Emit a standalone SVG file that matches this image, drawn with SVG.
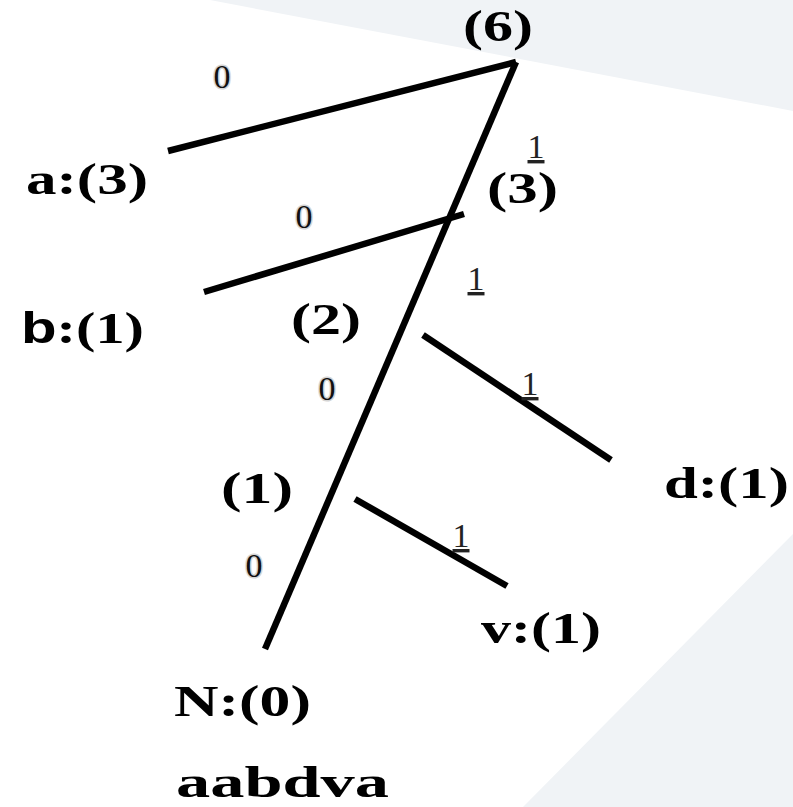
<svg xmlns="http://www.w3.org/2000/svg" width="793" height="807" viewBox="0 0 793 807">
<style>
.lbl{font-family:"Liberation Serif","Times New Roman",serif;font-weight:bold;font-size:45px;fill:#000}
.sans{font-family:"Liberation Sans",Arial,sans-serif;font-weight:bold}
.zero{font-family:"Liberation Serif","Times New Roman",serif;font-size:34px;fill:#111;stroke:#d4d4d4;stroke-width:3;paint-order:stroke;text-anchor:middle}
.one{font-family:"Liberation Serif","Times New Roman",serif;font-size:34px;fill:#222;text-anchor:middle;text-decoration:underline}
.edge{stroke:#000;stroke-width:6.5;stroke-linecap:butt;fill:none}
.bg{fill:#f0f3f6}
</style>
<rect width="793" height="807" fill="#ffffff"/>
<polygon class="bg" points="210,0 793,0 793,111"/>
<polygon class="bg" points="793,534 523,807 793,807"/>
<g id="connectors">
<line class="edge" x1="516" y1="62" x2="265" y2="649"/>
<line class="edge" x1="516" y1="62" x2="168" y2="151"/>
<line class="edge" x1="204" y1="292" x2="464" y2="214"/>
<line class="edge" x1="423" y1="335" x2="611" y2="460"/>
<line class="edge" x1="355" y1="499" x2="507" y2="586"/>
</g>
<g id="edge-labels">
<text class="zero" x="222" y="88">0</text>
<text class="zero" x="304" y="228">0</text>
<text class="zero" x="327" y="400">0</text>
<text class="zero" x="254" y="577">0</text>
<text class="one" x="536" y="158">1</text>
<text class="one" x="476" y="290">1</text>
<text class="one" x="530" y="395">1</text>
<text class="one" x="461" y="547">1</text>
</g>
<g id="node-root"><text class="lbl" x="463" y="41" textLength="70" lengthAdjust="spacingAndGlyphs">(6)</text></g>
<g id="node-a"><text class="lbl" x="26" y="194" textLength="122" lengthAdjust="spacingAndGlyphs">a:(3)</text></g>
<g id="node-3"><text class="lbl" x="487" y="203" textLength="71" lengthAdjust="spacingAndGlyphs">(3)</text></g>
<g id="node-b"><text class="lbl" x="21" y="343" textLength="123" lengthAdjust="spacingAndGlyphs"><tspan class="sans">b</tspan>:(1)</text></g>
<g id="node-2"><text class="lbl" x="291" y="334" textLength="70" lengthAdjust="spacingAndGlyphs">(2)</text></g>
<g id="node-d"><text class="lbl" x="664" y="498" textLength="125" lengthAdjust="spacingAndGlyphs">d:(1)</text></g>
<g id="node-1"><text class="lbl" x="221" y="503" textLength="72" lengthAdjust="spacingAndGlyphs">(1)</text></g>
<g id="node-v"><text class="lbl" x="481" y="643" textLength="120" lengthAdjust="spacingAndGlyphs">v:(1)</text></g>
<g id="node-N"><text class="lbl" x="174" y="716" textLength="137" lengthAdjust="spacingAndGlyphs">N:(0)</text></g>
<g id="caption"><text class="lbl" x="176" y="797" textLength="213" lengthAdjust="spacingAndGlyphs">aabdva</text></g>
</svg>
